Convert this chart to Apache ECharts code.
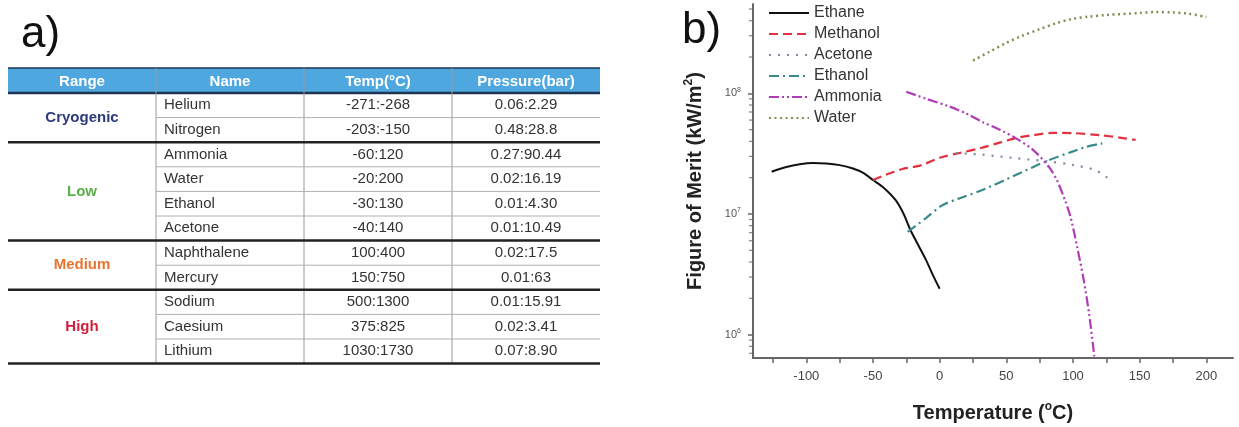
<!DOCTYPE html>
<html>
<head>
<meta charset="utf-8">
<title>Heat pipe working fluids</title>
<script src="https://cdn.jsdelivr.net/npm/echarts@6.0.0/dist/echarts.min.js"></script>
<style>
	html,body{margin:0;padding:0;background:#fff;}
	#main{width:1239px;height:427px;}
</style>
</head>
<body>
<div id="main"></div>
<script>
// table a)
var tableHeader = ['Range', 'Name', 'Temp(°C)', 'Pressure(bar)'];
var rangeGroups = ['Cryogenic', 'Low', 'Medium', 'High'];
var groupSizes = [2, 4, 2, 3];
var groupColors = ['#2d3a7c', '#5cb04a', '#ea7432', '#d21f3c'];
var fluidNames = ['Helium', 'Nitrogen', 'Ammonia', 'Water', 'Ethanol', 'Acetone', 'Naphthalene', 'Mercury', 'Sodium', 'Caesium', 'Lithium'];
var tempRanges = ['-271:-268', '-203:-150', '-60:120', '-20:200', '-30:130', '-40:140', '100:400', '150:750', '500:1300', '375:825', '1030:1730'];
var pressureRanges = ['0.06:2.29', '0.48:28.8', '0.27:90.44', '0.02:16.19', '0.01:4.30', '0.01:10.49', '0.02:17.5', '0.01:63', '0.01:15.91', '0.02:3.41', '0.07:8.90'];

// chart b) : [temperature degC, figure of merit kW/m2]
var ethane = [[-126, 2.24e7], [-115, 2.45e7], [-105, 2.58e7], [-95, 2.64e7], [-85, 2.62e7], [-75, 2.54e7], [-65, 2.38e7], [-57, 2.18e7], [-50, 1.91e7], [-42, 1.65e7], [-33, 1.3e7], [-27, 1.0e7], [-22, 7.4e6], [-16, 5.5e6], [-10, 4.1e6], [-5, 3.1e6], [0, 2.4e6]];
var methanol = [[-50, 1.91e7], [-40, 2.12e7], [-28, 2.36e7], [-20, 2.45e7], [-13, 2.55e7], [0, 2.92e7], [15, 3.2e7], [32, 3.55e7], [45, 3.9e7], [57, 4.25e7], [70, 4.5e7], [85, 4.7e7], [100, 4.68e7], [120, 4.5e7], [135, 4.3e7], [147, 4.1e7]];
var acetone = [[12, 3.2e7], [32, 3.1e7], [57, 2.9e7], [82, 2.72e7], [100, 2.55e7], [117, 2.3e7], [127, 1.95e7]];
var ethanol = [[-24, 7.1e6], [-10, 9.3e6], [2, 1.18e7], [15, 1.35e7], [32, 1.58e7], [57, 2.1e7], [82, 2.8e7], [100, 3.3e7], [110, 3.6e7], [122, 3.85e7]];
var ammonia = [[-25, 1.03e8], [-10, 9.0e7], [7, 7.8e7], [20, 6.8e7], [32, 5.8e7], [45, 5.0e7], [57, 4.25e7], [70, 3.4e7], [82, 2.45e7], [88, 1.9e7], [94, 1.3e7], [98, 9.6e6], [103, 5.4e6], [108, 2.85e6], [112, 1.5e6], [116, 6.6e5]];
var water = [[25, 1.87e8], [37, 2.2e8], [50, 2.62e8], [62, 3.0e8], [75, 3.4e8], [87, 3.8e8], [100, 4.15e8], [112, 4.32e8], [125, 4.46e8], [150, 4.63e8], [162, 4.72e8], [175, 4.68e8], [187, 4.57e8], [200, 4.29e8]];
var seriesNames = ['Ethane', 'Methanol', 'Acetone', 'Ethanol', 'Ammonia', 'Water'];
var xLabelValues = [-100, -50, 0, 50, 100, 150, 200];
var xTickValues = [-125, -100, -75, -50, -25, 0, 25, 50, 75, 100, 125, 150, 175, 200];

var xMin = -140, xMax = 220, yMin = 6.4e5, yMax = 5.5e8;
var font = '"Liberation Sans", Arial, sans-serif';

// log minor ticks 2..9 of each decade
var yMinorTicks = [];
for (var d = 5; d <= 8; d++) {
	for (var k = 2; k <= 9; k++) {
		var v = k * Math.pow(10, d);
		if (v > yMin && v < yMax) yMinorTicks.push([xMin, v]);
	}
}

// ---- table as graphic elements
var tX = 8, tY = 68, colW = 148, headH = 25, rowH = 24.6;
var tW = colW * 4;
var tBottom = tY + headH + rowH * fluidNames.length;
var gfx = [];
gfx.push({type: 'text', left: 21, top: 13, style: {text: 'a)', font: '44px ' + font, fill: '#111'}});
gfx.push({type: 'text', left: 682, top: 9, style: {text: 'b)', font: '44px ' + font, fill: '#111'}});
gfx.push({type: 'rect', shape: {x: tX, y: tY, width: tW, height: headH}, style: {fill: '#4fa7e0'}});
gfx.push({type: 'line', shape: {x1: tX, y1: tY, x2: tX + tW, y2: tY}, style: {stroke: '#1d3550', lineWidth: 1.5}});
gfx.push({type: 'line', shape: {x1: tX, y1: tY + headH, x2: tX + tW, y2: tY + headH}, style: {stroke: '#1d3550', lineWidth: 2.5}});
tableHeader.forEach(function (h, i) {
	gfx.push({type: 'text', x: tX + colW * i + colW / 2, y: tY + headH / 2 + 1,
		style: {text: h, font: 'bold 15px ' + font, fill: '#fff', align: 'center', verticalAlign: 'middle'}});
});
for (var c = 1; c < 4; c++) {
	gfx.push({type: 'line', shape: {x1: tX + colW * c, y1: tY, x2: tX + colW * c, y2: tBottom}, style: {stroke: '#9a9a9a', lineWidth: 1}});
}
var row = 0;
rangeGroups.forEach(function (g, gi) {
	var gTop = tY + headH + row * rowH;
	gfx.push({type: 'text', x: tX + colW / 2, y: gTop + groupSizes[gi] * rowH / 2,
		style: {text: g, font: 'bold 15px ' + font, fill: groupColors[gi], align: 'center', verticalAlign: 'middle'}});
	for (var r = 0; r < groupSizes[gi]; r++) {
		var yTop = tY + headH + row * rowH;
		var yMid = yTop + rowH / 2;
		gfx.push({type: 'text', x: tX + colW + 8, y: yMid, style: {text: fluidNames[row], font: '15px ' + font, fill: '#333', verticalAlign: 'middle'}});
		gfx.push({type: 'text', x: tX + colW * 2.5, y: yMid, style: {text: tempRanges[row], font: '15px ' + font, fill: '#333', align: 'center', verticalAlign: 'middle'}});
		gfx.push({type: 'text', x: tX + colW * 3.5, y: yMid, style: {text: pressureRanges[row], font: '15px ' + font, fill: '#333', align: 'center', verticalAlign: 'middle'}});
		row++;
		var yLine = tY + headH + row * rowH;
		if (r < groupSizes[gi] - 1) {
			gfx.push({type: 'line', shape: {x1: tX + colW, y1: yLine, x2: tX + tW, y2: yLine}, style: {stroke: '#b0b0b0', lineWidth: 1}});
		} else {
			gfx.push({type: 'line', shape: {x1: tX, y1: yLine, x2: tX + tW, y2: yLine}, style: {stroke: '#222', lineWidth: 2.5}});
		}
	}
});

function curve(name, data, color, dash, width) {
	return {
		name: name, type: 'line', data: data, smooth: 0.3, symbol: 'none',
		lineStyle: {color: color, type: dash, width: width},
		itemStyle: {color: color}, z: 3
	};
}

var chart = echarts.init(document.getElementById('main'));
chart.setOption({
	animation: false,
	textStyle: {fontFamily: font},
	graphic: gfx,
	grid: {left: 753, right: 6, top: 4, bottom: 69, outerBoundsMode: 'none'},
	legend: {
		data: seriesNames, orient: 'vertical', left: 768, top: 5, padding: 0,
		itemWidth: 40, itemHeight: 14, itemGap: 5,
		itemStyle: {opacity: 0},
		textStyle: {fontSize: 16, color: '#333', fontFamily: font}
	},
	xAxis: {
		type: 'value', min: xMin, max: xMax,
		name: 'Temperature ({s|o}C)', nameLocation: 'middle', nameGap: 43,
		nameTextStyle: {fontSize: 20, fontWeight: 'bold', color: '#222', lineHeight: 24,
			rich: {s: {fontSize: 12, fontWeight: 'bold', color: '#222', lineHeight: 13, verticalAlign: 'top'}}},
		axisLine: {onZero: false, lineStyle: {color: '#666', width: 2}},
		axisTick: {customValues: xTickValues, length: 5, lineStyle: {color: '#666', width: 1.5}},
		axisLabel: {customValues: xLabelValues, margin: 12, fontSize: 13, color: '#444'},
		splitLine: {show: false}
	},
	yAxis: {
		type: 'log', min: yMin, max: yMax,
		name: 'Figure of Merit (kW/m{s|2})', nameLocation: 'middle', nameRotate: 90, nameGap: 46,
		nameTextStyle: {fontSize: 20, fontWeight: 'bold', color: '#222', lineHeight: 24,
			rich: {s: {fontSize: 12, fontWeight: 'bold', color: '#222', lineHeight: 13, verticalAlign: 'top'}}},
		axisLine: {onZero: false, lineStyle: {color: '#666', width: 2}},
		axisTick: {length: 5, lineStyle: {color: '#666', width: 1.5}},
		axisLabel: {
			margin: 12, showMinLabel: false, showMaxLabel: false,
			formatter: function (v) { return '10{e|' + Math.round(Math.log10(v)) + '}'; },
			fontSize: 11, color: '#555', lineHeight: 14,
			rich: {e: {fontSize: 7, color: '#555', lineHeight: 8, verticalAlign: 'top'}}
		},
		splitLine: {show: false}
	},
	series: [
		curve('Ethane', ethane, '#111111', 'solid', 2),
		curve('Methanol', methanol, '#e2323f', [9, 5], 2.2),
		curve('Acetone', acetone, '#7d8aa0', [2, 7], 2.2),
		curve('Ethanol', ethanol, '#3a8a8a', [10, 4, 2, 4], 2.2),
		curve('Ammonia', ammonia, '#b03cb8', [10, 3, 2, 3, 2, 3], 2.2),
		curve('Water', water, '#8a8a52', [2, 3.5], 2.5),
		{
			name: 'yMinor', type: 'scatter', data: yMinorTicks, silent: true,
			symbol: 'rect', symbolSize: [4, 1.2], symbolOffset: [-2, 0],
			itemStyle: {color: '#666'}, z: 1
		}
	]
});
</script>
</body>
</html>
